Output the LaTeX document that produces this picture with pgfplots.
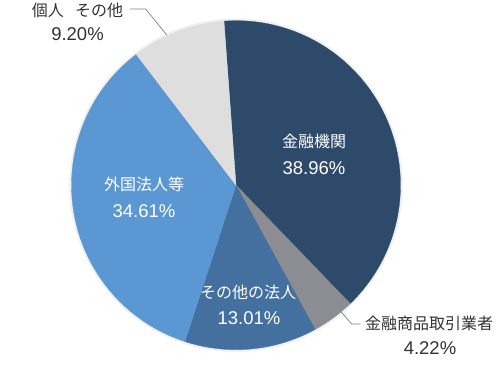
\documentclass[border=0pt]{standalone}
\usepackage{pgfplots}
\pgfplotsset{compat=1.18}
\usepackage{pgfplotstable}
\usepackage{fontspec}
\setmainfont{Liberation Sans}
\newfontfamily\jp{Noto Sans CJK JP}
\definecolor{cA}{HTML}{2E4A6B}
\definecolor{cB}{HTML}{8C8D92}
\definecolor{cC}{HTML}{43709F}
\definecolor{cD}{HTML}{5B97D2}
\definecolor{cE}{HTML}{DEDEDE}
\definecolor{txt}{HTML}{333333}
\pgfplotstableread{
id value
A 38.96
B 4.22
C 13.01
D 34.61
E 9.20
}\piedata
\begin{document}
\begin{tikzpicture}
\pgfplotstablegetelem{0}{value}\of\piedata \let\vA\pgfplotsretval
\pgfplotstablegetelem{1}{value}\of\piedata \let\vB\pgfplotsretval
\pgfplotstablegetelem{2}{value}\of\piedata \let\vC\pgfplotsretval
\pgfplotstablegetelem{3}{value}\of\piedata \let\vD\pgfplotsretval
\pgfplotstablegetelem{4}{value}\of\piedata \let\vE\pgfplotsretval
\pgfmathsetmacro\aO{94.2}
\pgfmathsetmacro\aA{\aO-3.6*\vA}
\pgfmathsetmacro\aB{\aA-3.6*\vB}
\pgfmathsetmacro\aC{\aB-3.6*\vC}
\pgfmathsetmacro\aD{\aC-3.6*\vD}
\pgfmathsetmacro\aE{\aD-3.6*\vE}
\begin{axis}[
  scale only axis, width=500pt, height=377pt,
  xmin=0, xmax=500, ymin=0, ymax=377,
  hide axis, clip=false,
]
\path (axis cs:0,0) rectangle (axis cs:500,377);
% soft shadow
\addplot[draw=black!6, line width=2.5pt, domain=0:360, samples=150, variable=\t] ({236+165.5*cos(\t)},{192.5+165.5*sin(\t)});
\addplot[fill=cA, draw=cA, line width=0.3pt, domain=\aA:\aO, samples=80, variable=\t] ({236+164.5*cos(\t)},{192.5+164.5*sin(\t)}) -- (axis cs:236,192.5) -- cycle;
\addplot[fill=cB, draw=cB, line width=0.3pt, domain=\aB:\aA, samples=30, variable=\t] ({236+164.5*cos(\t)},{192.5+164.5*sin(\t)}) -- (axis cs:236,192.5) -- cycle;
\addplot[fill=cC, draw=cC, line width=0.3pt, domain=\aC:\aB, samples=50, variable=\t] ({236+164.5*cos(\t)},{192.5+164.5*sin(\t)}) -- (axis cs:236,192.5) -- cycle;
\addplot[fill=cD, draw=cD, line width=0.3pt, domain=\aD:\aC, samples=80, variable=\t] ({236+164.5*cos(\t)},{192.5+164.5*sin(\t)}) -- (axis cs:236,192.5) -- cycle;
\addplot[fill=cE, draw=cE, line width=0.3pt, domain=\aE:\aD, samples=40, variable=\t] ({236+164.5*cos(\t)},{192.5+164.5*sin(\t)}) -- (axis cs:236,192.5) -- cycle;
% inside labels
\node[white, font=\jp\fontsize{16}{18}\selectfont] at (axis cs:314,236.5) {金融機関};
\node[white, font=\fontsize{18.5}{20}\selectfont] at (axis cs:314,210) {38.96\%};
\node[white, font=\jp\fontsize{16}{18}\selectfont] at (axis cs:144,193) {外国法人等};
\node[white, font=\fontsize{18.5}{20}\selectfont] at (axis cs:144,167) {34.61\%};
\node[white, font=\jp\fontsize{16}{18}\selectfont] at (axis cs:248,85.5) {その他の法人};
\node[white, font=\fontsize{18.5}{20}\selectfont] at (axis cs:249,60) {13.01\%};
% outside labels
\node[txt, font=\jp\fontsize{16}{18}\selectfont] at (axis cs:429,54) {金融商品取引業者};
\node[txt, font=\fontsize{18.5}{20}\selectfont] at (axis cs:430,30) {4.22\%};
\node[txt, font=\jp\fontsize{16}{18}\selectfont] at (axis cs:77.5,367) {個人\hspace{0.7em}その他};
\node[txt, font=\fontsize{18.5}{20}\selectfont] at (axis cs:77.5,344) {9.20\%};
% leader lines
\draw[black!50, line width=0.7pt] (axis cs:340.7,66.3) -- (axis cs:351.7,53.7) -- (axis cs:360.7,53.7);
\draw[black!50, line width=0.7pt] (axis cs:130,368.7) -- (axis cs:145.7,368.7) -- (axis cs:166.7,342.7);
\end{axis}
\end{tikzpicture}
\end{document}
